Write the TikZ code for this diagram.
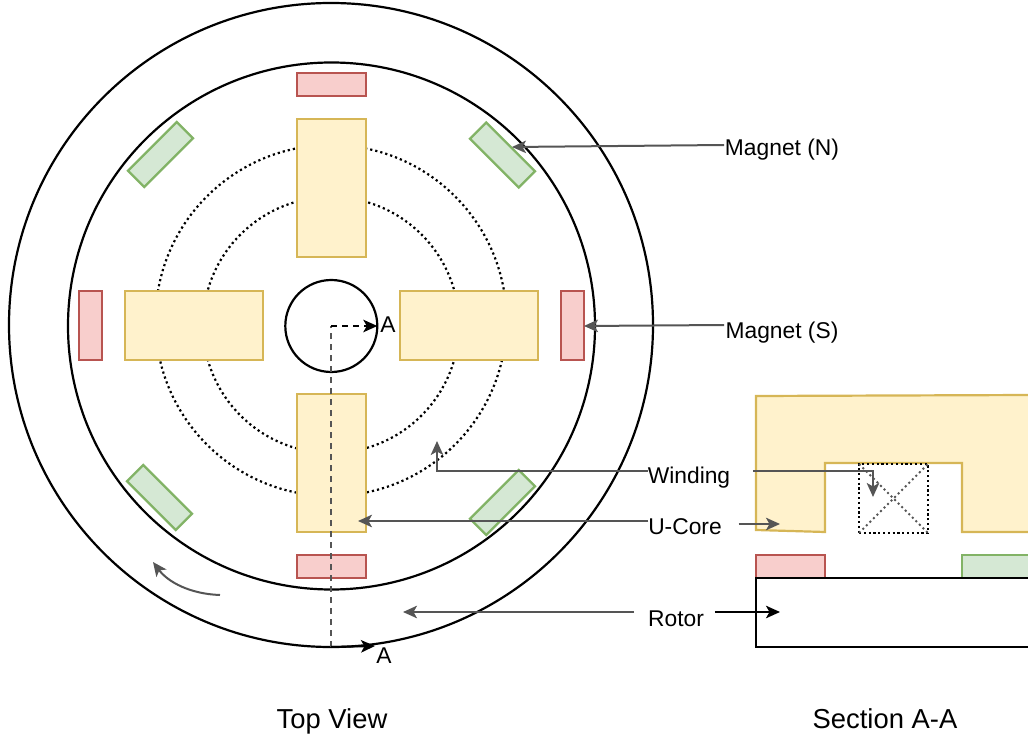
\documentclass[tikz,border=0pt]{standalone}
\usepackage{fontspec}
\setmainfont{Liberation Sans}
\usetikzlibrary{arrows.meta}
\definecolor{coreF}{HTML}{FFF2CC}\definecolor{coreD}{HTML}{D6B656}
\definecolor{redF}{HTML}{F8CECC}\definecolor{redD}{HTML}{B85450}
\definecolor{grnF}{HTML}{D5E8D4}\definecolor{grnD}{HTML}{82B366}
\definecolor{lead}{HTML}{555555}
\tikzset{
 ring/.style={circle,draw=black,line width=2.2pt,inner sep=0,outer sep=0,fill=none},
 dotring/.style={circle,draw=black,line width=2.2pt,dash pattern=on 2.2pt off 3pt,inner sep=0,outer sep=0},
 box/.style={rectangle,inner sep=0,outer sep=0,line width=2.2pt},
 corebox/.style={box,fill=coreF,draw=coreD},
 redbox/.style={box,fill=redF,draw=redD},
 grnbox/.style={box,fill=grnF,draw=grnD},
 horiz/.style={minimum width=69pt,minimum height=23pt},
 vert/.style={minimum width=23pt,minimum height=69pt},
 coreH/.style={minimum width=138pt,minimum height=69pt},
 coreV/.style={minimum width=69pt,minimum height=138pt},
 tag/.style={font=\fontsize{22.8}{26}\selectfont,inner sep=0,outer sep=0,anchor=base},
 title/.style={font=\fontsize{27.4}{31}\selectfont,inner sep=0,outer sep=0,anchor=base},
 leadline/.style={draw=lead,line width=2pt,-{Stealth[length=14pt,width=12.5pt,inset=3.5pt]}},
 blackline/.style={draw=black,line width=2pt,-{Stealth[length=14pt,width=12.5pt,inset=3.5pt]}},
}
\begin{document}
\begin{tikzpicture}[x=1pt,y=-1pt]
\useasboundingbox (0,0) rectangle (1028,735);
% top view
\node[ring,minimum size=644pt] (outer) at (331,325) {};
\node[ring,minimum size=527pt] (inner) at (331.5,326) {};
\node[dotring,minimum size=351pt] (dotA) at (331,320.5) {};
\node[dotring,minimum size=256pt] (dotB) at (331,325) {};
\node[ring,minimum size=92pt] (hub) at (331.3,326) {};
\node[corebox,coreV] (coreT) at (331.5,188) {};
\node[corebox,coreV] (coreB) at (331.5,463) {};
\node[corebox,coreH] (coreL) at (194,325.5) {};
\node[corebox,coreH] (coreR) at (469,325.5) {};
\node[redbox,horiz] (magT) at (331.5,84.5) {};
\node[redbox,horiz] (magB) at (331.5,566.5) {};
\node[redbox,vert] (magL) at (90.5,325.5) {};
\node[redbox,vert] (magR) at (572.5,325.5) {};
\node[grnbox,horiz,rotate=-45] (magTR) at (502.5,155) {};
\node[grnbox,horiz,rotate=45] (magTL) at (160.5,154.5) {};
\node[grnbox,horiz,rotate=-45] (magBL) at (159.5,497.5) {};
\node[grnbox,horiz,rotate=45] (magBR) at (502.5,502.5) {};
% section
\path[fill=coreF,draw=coreD,line width=2.2pt] (1030,395) -- (756,396) -- (756,530) -- (825,532) -- (825,463) -- (962,463) -- (962,532) -- (1030,532);
\node[box,draw=black,line width=2.2pt,dash pattern=on 2.2pt off 2.6pt,minimum width=69pt,minimum height=69pt] (wind) at (893.5,498.5) {};
\draw[lead,line width=2pt,dash pattern=on 2pt off 3pt] (wind.north west) -- (wind.south east) (wind.south west) -- (wind.north east);
\path[fill=redF,draw=redD,line width=2.2pt] (756,555) rectangle (825,578);
\path[fill=grnF,draw=grnD,line width=2.2pt] (1030,555) -- (962,555) -- (962,578) -- (1030,578);
\node[coordinate] (rotL) at (756,578) {};
\draw[black,line width=2.2pt] (1030,578) -- (rotL) -- (756,647) -- (1030,647);
% section line
\coordinate (aBase) at (331,647);
\coordinate (aCorner) at (331,326);
\node[tag] (aTop) at (388,332) {A};
\node[tag] (aBot) at (384,663) {A};
\draw[lead,line width=2pt,dash pattern=on 6pt off 5pt] (aBase) -- (aCorner);
\draw[blackline,dash pattern=on 6pt off 5pt] (aCorner) -- (hub.east);
\draw[blackline] (aBase) -- (375,646);
% labels
\node[tag] (lN) at (782,156) {Magnet (N)};
\node[tag] (lS) at (782,338) {Magnet (S)};
\node[tag] (lW) at (689,483) {Winding};
\node[tag] (lU) at (685,534) {U-Core};
\node[tag] (lR) at (676,626) {Rotor};
\node[title] (tTop) at (332,728) {Top View};
\node[title] (tSec) at (885,728) {Section A-A};
% leaders
\coordinate (nS) at (724,145); \coordinate (nE) at (512,147);
\coordinate (sS) at (724,325); \coordinate (sE) at (584,326);
\coordinate (wE) at (437,441); \coordinate (wE2) at (873,497);
\coordinate (uE) at (358,521); \coordinate (uE2) at (780,524);
\coordinate (rE) at (403,612); \coordinate (rE2) at (780,612);
\draw[leadline] (nS) -- (nE);
\draw[leadline] (sS) -- (sE);
\draw[leadline] (lW.west |- 0,471) -- (437,471) -- (wE);
\draw[leadline] (lW.east |- 0,471) ++(23,0) -- (873,471) -- (wE2);
\draw[leadline] (lU.west |- uE) -- (uE);
\draw[leadline] (lU.east |- uE2) ++(17,0) -- (uE2);
\draw[leadline] (lR.west |- rE) ++(-14,0) -- (rE);
\draw[blackline] (lR.east |- rE2) ++(11,0) -- (rE2);
\coordinate (spinS) at (220,595); \coordinate (spinE) at (153,562);
\draw[leadline] (spinS) .. controls (190,594) and (168,582) .. (spinE);
\end{tikzpicture}
\end{document}
